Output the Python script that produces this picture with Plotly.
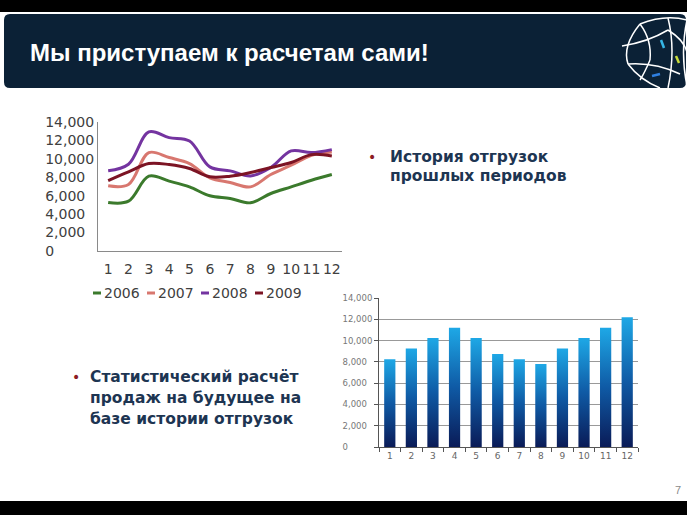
import plotly.graph_objects as go

W, H = 687, 515

months = list(range(1, 13))
month_labels = [str(m) for m in months]

sales_2006 = [5270, 5410, 8120, 7580, 6960, 5990, 5700, 5230, 6240, 6960, 7680, 8300]
sales_2007 = [7070, 7220, 10680, 10140, 9490, 7940, 7430, 6960, 8300, 9310, 10390, 10750]
sales_2008 = [8700, 9420, 12920, 12300, 11940, 9130, 8700, 8150, 9060, 10860, 10680, 11000]
sales_2009 = [7650, 8590, 9490, 9380, 8950, 8050, 8120, 8520, 9060, 9600, 10460, 10320]

forecast = [8250, 9250, 10250, 11200, 10250, 8750, 8250, 7800, 9250, 10250, 11200, 12200]

y_ticks = list(range(0, 14001, 2000))

series = [
    ("2006", sales_2006, "#3b7a2c"),
    ("2007", sales_2007, "#d8776f"),
    ("2008", sales_2008, "#7434a0"),
    ("2009", sales_2009, "#7c1424"),
]


def fx(x):
    return x / W


def fy(y):
    return 1 - y / H


def left_label(v):
    # the slide's value labels are left aligned: pad with figure / punctuation spaces
    s = f"{v:,}"
    widest = f"{max(y_ticks):,}"
    digits = sum(c.isdigit() for c in widest) - sum(c.isdigit() for c in s)
    commas = widest.count(",") - s.count(",")
    return s + "\u2007" * digits + "\u2008" * commas


y_labels = [left_label(v) for v in y_ticks]

fig = go.Figure()

# history lines
for name, vals, color in series:
    fig.add_trace(go.Scatter(
        x=months, y=vals, name=name, mode="lines",
        line=dict(color=color, width=3, shape="spline", smoothing=1.0),
        xaxis="x", yaxis="y", showlegend=False,
    ))

# forecast bars with a vertical gradient (one filled polygon per bar)
half = 0.26
for m, v in zip(months, forecast):
    fig.add_trace(go.Scatter(
        x=[m - half, m + half, m + half, m - half, m - half],
        y=[0, 0, v, v, 0],
        mode="lines", fill="toself", line=dict(width=0),
        fillgradient=dict(type="vertical",
                          colorscale=[[0, "#0a1b57"], [0.5, "#0f5aa5"], [1, "#1ea8e6"]]),
        xaxis="x2", yaxis="y2", showlegend=False, hoverinfo="skip",
    ))

tick_font = "DejaVu Sans, Verdana, sans-serif"

fig.update_layout(
    width=W, height=H,
    margin=dict(l=0, r=0, t=0, b=0, pad=0, autoexpand=False),
    paper_bgcolor="white", plot_bgcolor="rgba(0,0,0,0)",
    font=dict(family="Liberation Sans, Arial, sans-serif"),
    xaxis=dict(
        domain=[fx(98), fx(342)], range=[0.5, 12.5],
        tickvals=months, ticktext=month_labels,
        showgrid=False, zeroline=False, showline=True, linecolor="#8a8a8a", linewidth=1,
        ticks="outside", ticklen=5, tickcolor="rgba(0,0,0,0)",
        tickfont=dict(size=14, color="#404040", family=tick_font), anchor="y",
    ),
    yaxis=dict(
        domain=[fy(251), fy(122)], range=[0, 14000],
        tickvals=y_ticks, ticktext=y_labels,
        showgrid=False, zeroline=False, showline=True, linecolor="#8a8a8a", linewidth=1,
        tickfont=dict(size=14, color="#404040", family=tick_font), anchor="x",
    ),
    xaxis2=dict(
        domain=[fx(379), fx(638)], range=[0.5, 12.5],
        tickvals=months, ticktext=month_labels,
        showgrid=False, zeroline=False, showline=True, linecolor="#555555", linewidth=1,
        ticks="", tickfont=dict(size=9, color="#666666", family=tick_font),
        minor=dict(tickvals=[m + 0.5 for m in range(0, 13)], ticks="outside",
                   ticklen=4, tickcolor="#555555", showgrid=False),
        anchor="y2",
    ),
    yaxis2=dict(
        domain=[fy(447), fy(298)], range=[0, 14000],
        tickvals=y_ticks, ticktext=y_labels,
        showgrid=True, gridcolor="#999999", gridwidth=1,
        zeroline=False, showline=True, linecolor="#555555", linewidth=1,
        ticks="outside", ticklen=4, tickcolor="#555555",
        tickfont=dict(size=8.5, color="#777777", family=tick_font), anchor="x2",
    ),
)

# slide frame: black bands and header bar
fig.add_shape(type="rect", xref="paper", yref="paper",
              x0=0, x1=1, y0=fy(12), y1=1, fillcolor="black", line=dict(width=0), layer="below")
fig.add_shape(type="rect", xref="paper", yref="paper",
              x0=0, x1=1, y0=0, y1=fy(501), fillcolor="black", line=dict(width=0), layer="below")

r = 6
x0, x1, y0, y1 = 4, 686, 14, 88
pts = [
    ("M", x0 + r, y0), ("L", x1 - r, y0), ("Q", x1, y0, x1, y0 + r),
    ("L", x1, y1 - r), ("Q", x1, y1, x1 - r, y1), ("L", x0 + r, y1),
    ("Q", x0, y1, x0, y1 - r), ("L", x0, y0 + r), ("Q", x0, y0, x0 + r, y0),
]
path = ""
for p in pts:
    cmd, coords = p[0], p[1:]
    path += cmd + " " + " ".join(
        f"{fx(coords[i]):.5f},{fy(coords[i + 1]):.5f}" for i in range(0, len(coords), 2)) + " "
fig.add_shape(type="path", xref="paper", yref="paper", path=path + "Z",
              fillcolor="#0b2136", line=dict(width=0), layer="below")

# rough logo lines
logo = [
    [(640, 24), (665, 14), (687, 20)],
    [(640, 24), (622, 46), (628, 64)],
    [(628, 64), (640, 80), (660, 88)],
    [(622, 46), (648, 42), (668, 30)],
    [(628, 64), (655, 62), (680, 74)],
    [(668, 18), (676, 50), (668, 88)],
    [(640, 24), (652, 40), (650, 60)],
    [(650, 60), (645, 72), (640, 80)],
    [(668, 30), (684, 40), (687, 52)],
    [(687, 20), (680, 52), (687, 86)],
]
for a, c, b in logo:
    p = f"M {fx(a[0]):.5f},{fy(a[1]):.5f} Q {fx(c[0]):.5f},{fy(c[1]):.5f} {fx(b[0]):.5f},{fy(b[1]):.5f}"
    fig.add_shape(type="path", xref="paper", yref="paper", path=p,
                  line=dict(color="white", width=1.5))
for (a, b, col) in [((661, 40), (664, 48), "#35b6e6"), ((676, 56), (679, 63), "#c8dc3a"),
                    ((652, 76), (660, 74), "#2f7fe0")]:
    fig.add_shape(type="line", xref="paper", yref="paper",
                  x0=fx(a[0]), y0=fy(a[1]), x1=fx(b[0]), y1=fy(b[1]),
                  line=dict(color=col, width=2.5))


# texts
def note(x, y, text, size, color, bold=False, xanchor="left", family="Liberation Sans, Arial, sans-serif"):
    fig.add_annotation(x=fx(x), y=fy(y), xref="paper", yref="paper", showarrow=False,
                       text=f"<b>{text}</b>" if bold else text, xanchor=xanchor, yanchor="middle",
                       font=dict(size=size, color=color, family=family))


note(28, 52, "Мы приступаем к расчетам сами!", 24, "white", bold=True)

body = "DejaVu Sans, Verdana, sans-serif"
note(366, 157, "•", 14, "#8c1c24", family=body)
note(388, 157, "История отгрузок", 15.5, "#1d3552", bold=True, family=body)
note(388, 176, "прошлых периодов", 15.5, "#1d3552", bold=True, family=body)

note(70, 377, "•", 14, "#8c1c24", family=body)
note(88, 377, "Статистический расчёт", 15.5, "#1d3552", bold=True, family=body)
note(88, 398, "продаж на будущее на", 15.5, "#1d3552", bold=True, family=body)
note(88, 419, "базе истории отгрузок", 15.5, "#1d3552", bold=True, family=body)

note(683, 490, "7", 11, "#8a8a8a", xanchor="right")

# legend of the line chart
leg_x = [93, 147, 201, 255]
for (name, vals, color), lx in zip(series, leg_x):
    fig.add_shape(type="line", xref="paper", yref="paper",
                  x0=fx(lx), x1=fx(lx + 8), y0=fy(293), y1=fy(293),
                  line=dict(color=color, width=3))
    note(lx + 9, 293, name, 14, "#404040", family=tick_font)

fig.write_html("out.html", config=dict(displayModeBar=False),
               post_script="document.body.style.margin='0';")
